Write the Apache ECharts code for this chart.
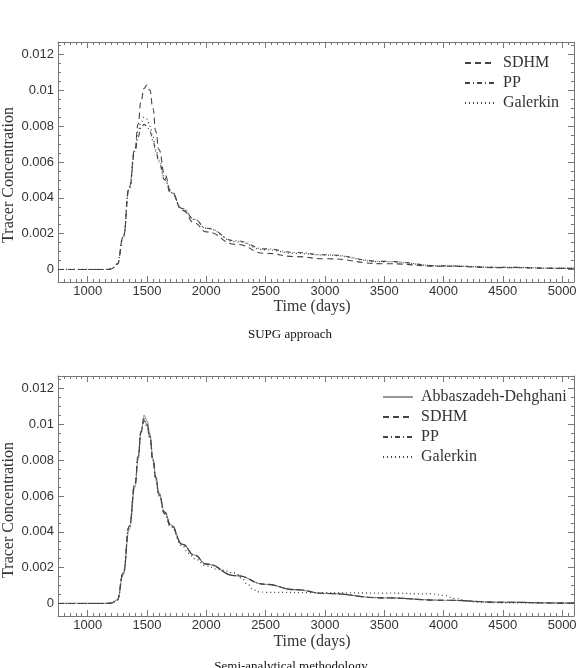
<!DOCTYPE html>
<html><head><meta charset="utf-8">
<script src="https://cdn.jsdelivr.net/npm/echarts@6/dist/echarts.min.js"></script>
<style>html,body{margin:0;padding:0;background:#fff}#c{width:582px;height:668px}</style>
</head><body><div id="c"></div>
<script>
// ---- data ----
const timeDays = [750,1000,1150,1200,1250,1300,1350,1400,1425,1450,1475,1500,1525,1550,1575,1600,1650,1700,1800,1900,2000,2250,2500,2750,3000,3500,4000,4500,5000,5100];
// SUPG approach
const supgSDHM = [0,0,0,0.00003,0.0003,0.0018,0.0046,0.0068,0.0081,0.0094,0.0101,0.0103,0.0100,0.0090,0.0077,0.0067,0.0053,0.0044,0.0033,0.0026,0.0021,0.0014,0.0009,0.00072,0.0006,0.00032,0.00018,0.0001,0.00006,0.00006];
const supgPP = [0,0,0,0.00003,0.0003,0.0018,0.0045,0.0066,0.0074,0.0079,0.0081,0.0080,0.0077,0.0072,0.0066,0.0060,0.0050,0.0043,0.0034,0.0028,0.0023,0.0016,0.00115,0.00095,0.00082,0.00045,0.0002,0.00012,0.00007,0.00007];
const supgGalerkin = [0,0,0,0.00003,0.0003,0.0018,0.0045,0.0067,0.0077,0.0082,0.0085,0.0084,0.0080,0.0074,0.0067,0.0061,0.0051,0.0043,0.0034,0.0028,0.0023,0.00155,0.0011,0.0009,0.0008,0.00043,0.0002,0.00012,0.00007,0.00007];
// Semi-analytical methodology
const semiAD = [0,0,0,0.00002,0.0002,0.0016,0.0041,0.0065,0.0080,0.0095,0.0105,0.0102,0.0095,0.0081,0.0071,0.0062,0.0051,0.0044,0.0033,0.0027,0.0022,0.00155,0.00107,0.00077,0.00056,0.00031,0.00018,0.00007,0.00002,0.00002];
const semiSDHM = [0,0,0,0.00002,0.0002,0.0017,0.0043,0.0067,0.0082,0.0096,0.0103,0.0100,0.0093,0.0080,0.0070,0.0061,0.0051,0.0044,0.0033,0.0027,0.0022,0.00155,0.00107,0.00077,0.00056,0.00031,0.00018,0.00007,0.00002,0.00002];
const semiPP = [0,0,0,0.00002,0.0002,0.0017,0.0043,0.0067,0.0082,0.0096,0.0102,0.0099,0.0092,0.0080,0.0070,0.0061,0.0050,0.0043,0.0033,0.0027,0.0022,0.00155,0.00107,0.00077,0.00056,0.00031,0.00018,0.00007,0.00002,0.00002];
const semiGalTime = [750,1000,1150,1200,1250,1300,1350,1400,1425,1450,1475,1500,1525,1550,1575,1600,1650,1700,1800,1850,1900,2000,2100,2250,2300,2350,2400,2450,2500,3000,3500,3900,4000,4100,4200,4300,4500,5000,5100];
const semiGalerkin = [0,0,0,0.00002,0.0002,0.0017,0.0043,0.0067,0.0082,0.0096,0.0103,0.0100,0.0093,0.0080,0.0069,0.0060,0.0050,0.0043,0.0032,0.0028,0.0025,0.0021,0.0019,0.0017,0.0014,0.00105,0.00075,0.00064,0.00062,0.0006,0.00058,0.00053,0.00045,0.00028,0.00015,0.00006,0.00004,0.00003,0.00003];
// ticks
const xMajorTicks = [1000,1500,2000,2500,3000,3500,4000,4500,5000];
const xMinorTicks = [];
for (let v = 750; v <= 5100; v += 50) xMinorTicks.push(v);
const yMajorTicks = [0,0.002,0.004,0.006,0.008,0.01,0.012];
const yMinorTicks = [];
for (let i = 0; i <= 25; i++) yMinorTicks.push(Math.round(i*5)/10000);

const X_MIN = 750, X_MAX = 5100, Y_MIN = -0.0007, Y_MAX = 0.0127;
const FRAME = '#777';
const SERIF = '"Liberation Serif", "DejaVu Serif", serif';
const SANS = '"Liberation Sans", Arial, sans-serif';

const grids = [
  {left: 58, top: 42, width: 516, height: 240},
  {left: 58, top: 376, width: 516, height: 240}
];

const xAxes = [], yAxes = [];
grids.forEach((g, gi) => {
  const mk = (pos, ticks, len, showLine, showLabel) => ({
    type: 'value', gridIndex: gi, position: pos, min: X_MIN, max: X_MAX,
    axisLine: {show: showLine, onZero: false, lineStyle: {color: FRAME, width: 1}},
    axisTick: {show: true, inside: true, length: len, customValues: ticks, lineStyle: {color: FRAME, width: 1}},
    axisLabel: showLabel ? {show: true, customValues: xMajorTicks, margin: 3, color: '#333', fontFamily: SANS, fontSize: 13,
      formatter: v => String(v)} : {show: false},
    splitLine: {show: false}
  });
  xAxes.push(mk('bottom', xMajorTicks, 6, true, true));
  xAxes.push(mk('bottom', xMinorTicks, 3, false, false));
  xAxes.push(mk('top', xMajorTicks, 6, true, false));
  xAxes.push(mk('top', xMinorTicks, 3, false, false));
  const mky = (pos, ticks, len, showLine, showLabel) => ({
    type: 'value', gridIndex: gi, position: pos, min: Y_MIN, max: Y_MAX,
    axisLine: {show: showLine, onZero: false, lineStyle: {color: FRAME, width: 1}},
    axisTick: {show: true, inside: true, length: len, customValues: ticks, lineStyle: {color: FRAME, width: 1}},
    axisLabel: showLabel ? {show: true, customValues: yMajorTicks, margin: 4, color: '#333', fontFamily: SANS, fontSize: 13,
      formatter: v => v === 0 ? '0' : String(+(+v).toFixed(3))} : {show: false},
    splitLine: {show: false}
  });
  yAxes.push(mky('left', yMajorTicks, 6, true, true));
  yAxes.push(mky('left', yMinorTicks, 3, false, false));
  yAxes.push(mky('right', yMajorTicks, 6, true, false));
  yAxes.push(mky('right', yMinorTicks, 3, false, false));
});

const pair = (xs, ys) => xs.map((x, i) => [x, ys[i]]);
const DASH = [6, 4], DASHDOT = [5, 3, 1, 3], DOT = [1, 3];
function line(name, gi, xs, ys, type, color, width) {
  return {
    name, type: 'line', xAxisIndex: gi*4, yAxisIndex: gi*4,
    data: pair(xs, ys), symbol: 'none', showSymbol: false,
    smooth: true, smoothMonotone: 'x',
    lineStyle: {type, color, width: width || 1.1},
    itemStyle: {color},
    animation: false
  };
}

const series = [
  line('SDHM', 0, timeDays, supgSDHM, DASH, '#444'),
  line('PP', 0, timeDays, supgPP, DASHDOT, '#444'),
  line('Galerkin', 0, timeDays, supgGalerkin, DOT, '#444', 1.3),
  line('Abbaszadeh-Dehghani', 1, timeDays, semiAD, 'solid', '#999', 1.2),
  line('SDHM', 1, timeDays, semiSDHM, DASH, '#444'),
  line('PP', 1, timeDays, semiPP, DASHDOT, '#444'),
  line('Galerkin', 1, semiGalTime, semiGalerkin, DOT, '#444', 1.3)
];

const legendCommon = {
  orient: 'vertical', itemWidth: 30, itemHeight: 14, itemGap: 4,
  selectedMode: false,
  itemStyle: {opacity: 0, borderWidth: 0},
  textStyle: {fontFamily: SERIF, fontSize: 16, color: '#333', padding: [0, 0, 0, 3], lineHeight: 16}
};

const option = {
  animation: false,
  grid: grids,
  xAxis: xAxes,
  yAxis: yAxes,
  legend: [
    Object.assign({}, legendCommon, {left: 459, top: 50, data: ['SDHM', 'PP', 'Galerkin']}),
    Object.assign({}, legendCommon, {left: 377, top: 384, data: ['Abbaszadeh-Dehghani', 'SDHM', 'PP', 'Galerkin']})
  ],
  graphic: [
    {type: 'text', x: 9, y: 175, rotation: Math.PI/2, style: {text: 'Tracer Concentration', fontFamily: SERIF, fontSize: 16, fill: '#333', align: 'center', verticalAlign: 'middle'}},
    {type: 'text', x: 9, y: 510, rotation: Math.PI/2, style: {text: 'Tracer Concentration', fontFamily: SERIF, fontSize: 16, fill: '#333', align: 'center', verticalAlign: 'middle'}},
    {type: 'text', x: 312, y: 307, style: {text: 'Time (days)', fontFamily: SERIF, fontSize: 16, fill: '#333', align: 'center', verticalAlign: 'middle'}},
    {type: 'text', x: 312, y: 642, style: {text: 'Time (days)', fontFamily: SERIF, fontSize: 16, fill: '#333', align: 'center', verticalAlign: 'middle'}},
    {type: 'text', x: 290, y: 335, style: {text: 'SUPG approach', fontFamily: SERIF, fontSize: 13, fill: '#111', align: 'center', verticalAlign: 'middle'}},
    {type: 'text', x: 291, y: 660, style: {text: 'Semi-analytical methodology', fontFamily: SERIF, fontSize: 13, fill: '#111', align: 'center', verticalAlign: 'top'}}
  ],
  series
};
const chart = echarts.init(document.getElementById('c'), null, {renderer: 'canvas'});
chart.setOption(option);
</script>
</body></html>
